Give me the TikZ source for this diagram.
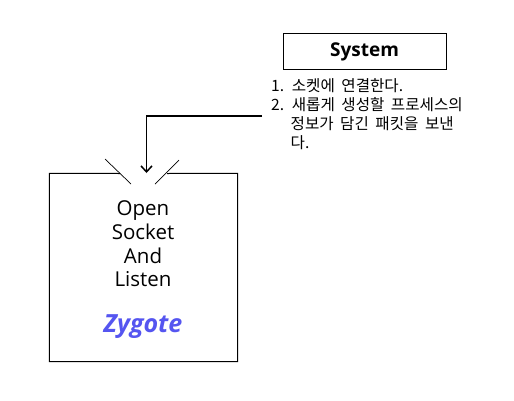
\documentclass[tikz,border=0pt]{standalone}
\usepackage{fontspec}
\setmainfont{Open Sans}
\newfontfamily\kofont{Noto Sans CJK KR}
\newcommand\kospacing{\spaceskip=6.5pt\relax}
\usetikzlibrary{arrows.meta,positioning}
\definecolor{zygoteblue}{HTML}{5555F0}
\tikzset{
  procbox/.style={draw=black, line width=1pt, inner sep=0pt},
  socketline/.style={black, line width=0.7pt},
  feedline/.style={black, line width=1.8pt, -{Straight Barb[length=6pt,width=11pt,line width=1.5pt]}}
}
\begin{document}
\begin{tikzpicture}[x=1pt,y=-1pt]
			\useasboundingbox (0,0) rectangle (514,400);

			% system side
			\node[procbox, minimum width=163pt, minimum height=36pt,
				font=\fontsize{19}{22}\selectfont\bfseries] (system) at (364.5,51.5) {System};
			\node[anchor=north west, inner sep=0pt, align=left,
				font={\kofont\fontsize{15.6}{19.2}\selectfont\kospacing}] (steps) at (271,78)
				{1. 소켓에 연결한다.\\
				2. 새롭게 생성할 프로세스의\\
				\phantom{2.}\hspace{6.5pt}정보가 담긴 패킷을 보낸\\
				\phantom{2.}\hspace{6.5pt}다.};

			% zygote box, open at the top
			\node[minimum width=188pt, minimum height=188pt, inner sep=0pt] (zygote) at (143.5,267.5) {};
			\draw[black, line width=1pt]
			(120,173.5) -- (zygote.north west) -- (zygote.south west)
			-- (zygote.south east) -- (zygote.north east) -- (167,173.5);
			\draw[socketline] (105,159) -- (131,184);
			\draw[socketline] (179,160) -- (155,184);

			\node[align=center, inner sep=0pt, font=\fontsize{20.5}{23.6}\selectfont] (listen) at (143,244)
				{Open\\Socket\\And\\Listen};
			\node[inner sep=0pt, font=\fontsize{25}{28}\selectfont\bfseries\itshape,
				text=zygoteblue] (name) at (143,327) {Zygote};

			% packet sent to the socket
			\coordinate (feed) at (262,116);
			\coordinate (sock) at (146.5,173);
			\draw[feedline] (feed) -| (sock);
		\end{tikzpicture}
\end{document}
